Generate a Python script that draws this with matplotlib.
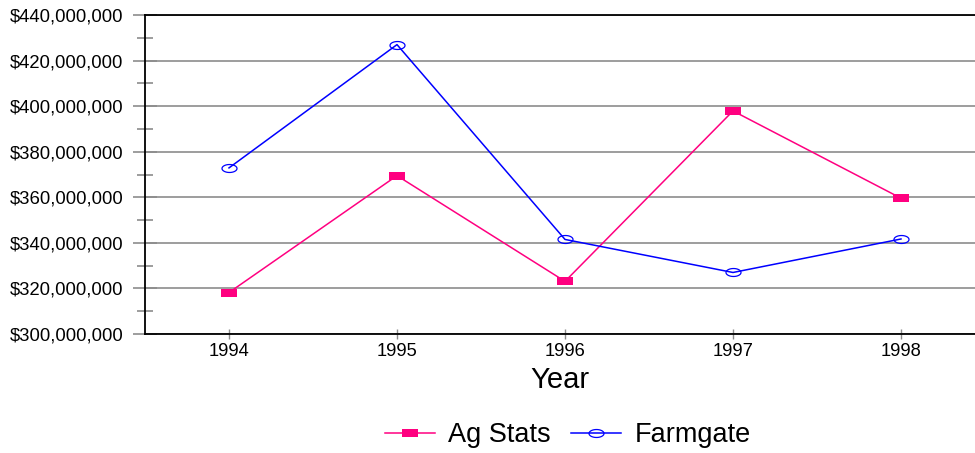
import numpy as np
import matplotlib
matplotlib.use("Agg")
import matplotlib.pyplot as plt
from matplotlib.path import Path
from matplotlib.lines import Line2D
from matplotlib.ticker import FuncFormatter, MultipleLocator

plt.rcParams["font.family"] = ["Liberation Sans", "DejaVu Sans"]

years = [1994, 1995, 1996, 1997, 1998]
ag_stats = [318.2e6, 369.5e6, 323.1e6, 397.9e6, 359.6e6]
farmgate = [372.9e6, 427.0e6, 341.5e6, 327.0e6, 341.7e6]
series_names = ["Ag Stats", "Farmgate"]

PINK = "#FF0080"
BLUE = "#0000FF"
GRID = "#8C8C8C"

# wide flat box and squashed ellipse markers
box = Path([(-1, -0.5), (1, -0.5), (1, 0.5), (-1, 0.5), (-1, -0.5)],
           [Path.MOVETO, Path.LINETO, Path.LINETO, Path.LINETO, Path.CLOSEPOLY])
t = np.linspace(0, 2 * np.pi, 60)
oval = Path(np.column_stack([np.cos(t), 0.53 * np.sin(t)]), closed=True)

fig = plt.figure(figsize=(9.75, 4.53), dpi=100)
ax = fig.add_axes([145 / 975, 119 / 453, 1 - 145 / 975, 319 / 453])

ax.plot(years, ag_stats, color=PINK, lw=1.1, marker=box, ms=12.2,
        mfc=PINK, mec=PINK, mew=0, zorder=3)
ax.plot(years, farmgate, color=BLUE, lw=1.1, marker=oval, ms=10.8,
        mfc="none", mec=BLUE, mew=0.9, zorder=3)

ax.set_xlim(1993.5, 1998 + 74 / 168)
ax.set_ylim(300e6, 440e6)
ax.set_xticks(years)
ax.yaxis.set_major_locator(MultipleLocator(20e6))
ax.yaxis.set_minor_locator(MultipleLocator(10e6))
ax.yaxis.set_major_formatter(FuncFormatter(lambda v, p: f"${v:,.0f}"))

ax.grid(axis="y", which="major", color=GRID, lw=1.2, zorder=1)
ax.tick_params(axis="y", which="major", direction="inout", length=17,
               width=1.2, color=GRID, pad=7, labelsize=13.3)
ax.tick_params(axis="y", which="minor", direction="inout", length=11.5,
               width=1.2, color=GRID)
ax.tick_params(axis="x", direction="inout", length=6.5, width=1.0,
               color=GRID, pad=3.5, labelsize=13.2)

for side in ["left", "bottom", "top"]:
    ax.spines[side].set_color("black")
    ax.spines[side].set_linewidth(1.3)
ax.spines["right"].set_visible(False)

ax.set_xlabel("Year", fontsize=21, labelpad=4)

handles = [
    Line2D([], [], color=PINK, lw=1.1, marker=box, ms=12.2, mfc=PINK, mew=0),
    Line2D([], [], color=BLUE, lw=1.1, marker=oval, ms=10.8, mfc="none",
           mec=BLUE, mew=0.9),
]
fig.legend(handles, series_names, loc="center", bbox_to_anchor=(568 / 975, 1 - 435 / 453),
           ncol=2, frameon=False, fontsize=19.5, handlelength=1.85,
           handletextpad=0.5, columnspacing=0.75, borderaxespad=0)

fig.savefig("out.png", dpi=100)
